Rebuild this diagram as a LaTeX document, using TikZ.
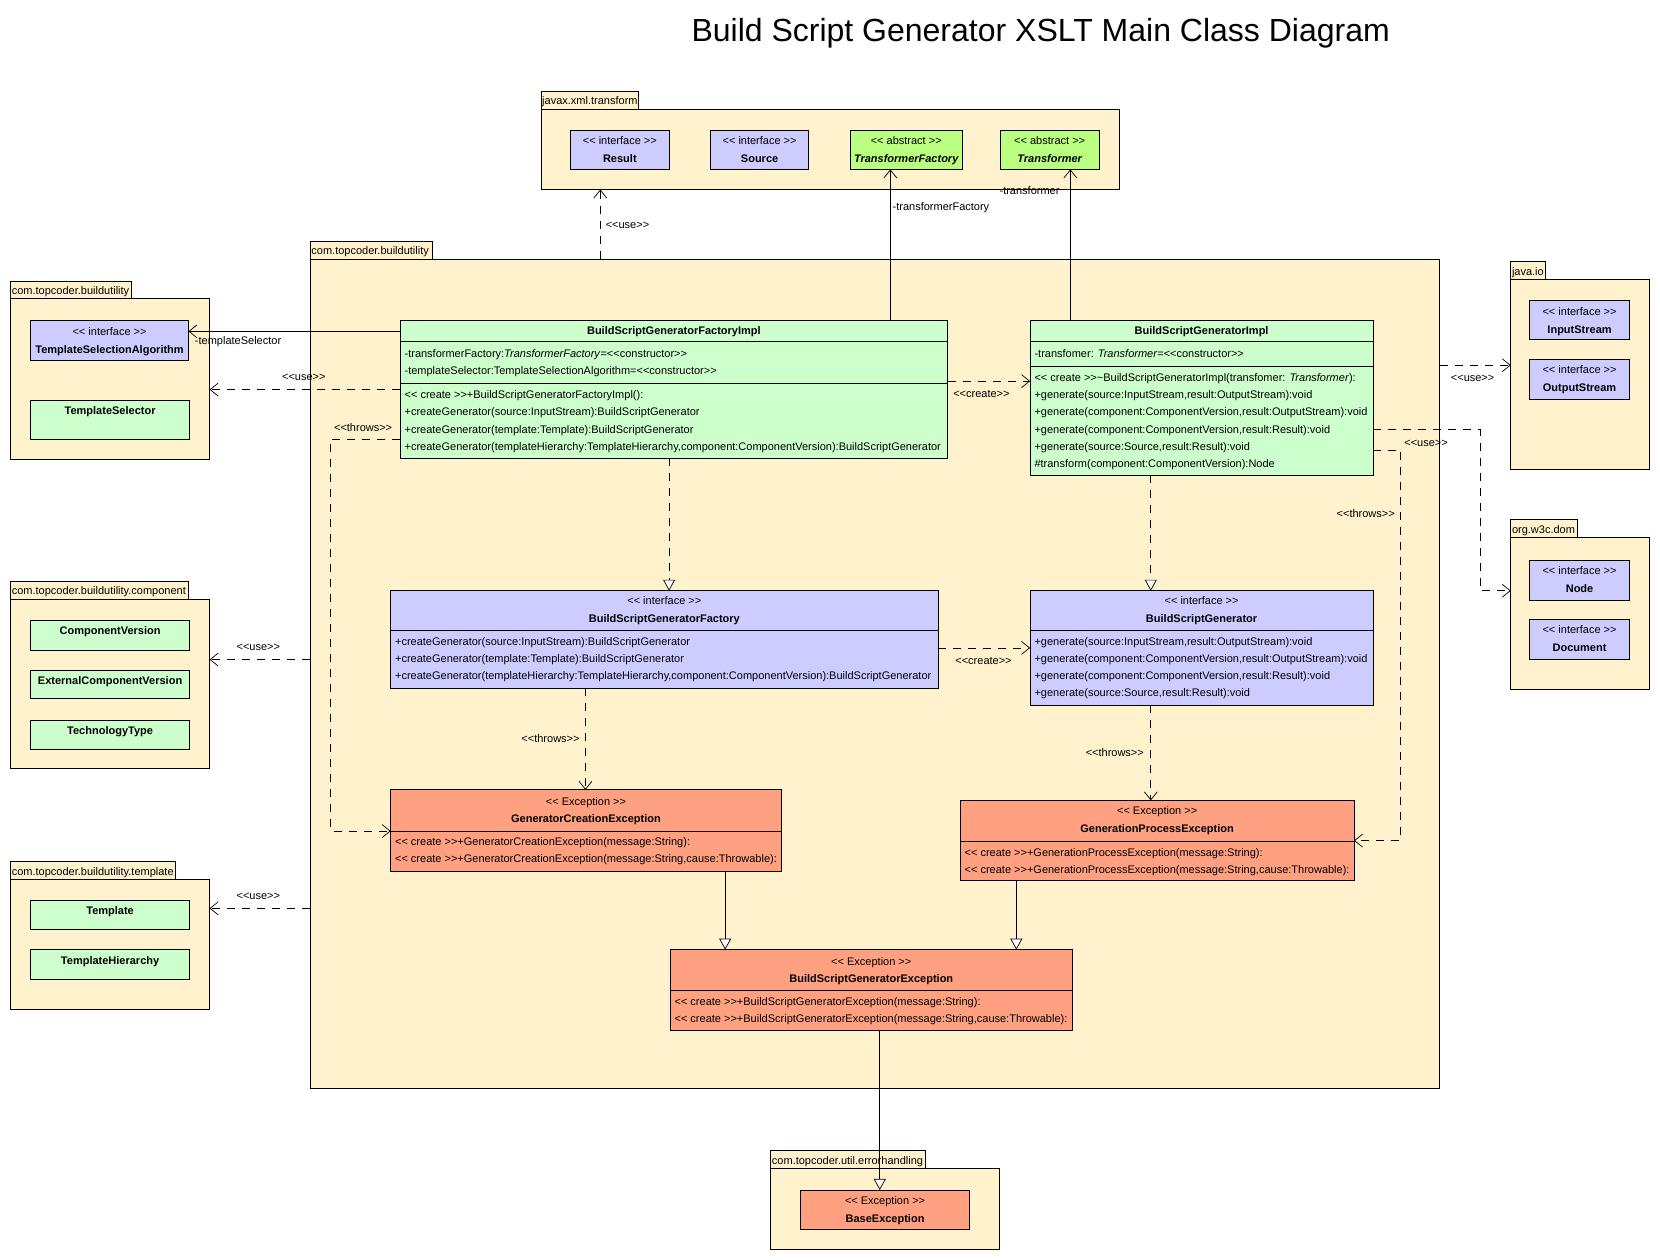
\documentclass[tikz,border=0pt]{standalone}
\usepackage{fontspec}
\setmainfont{Liberation Sans}
\usetikzlibrary{arrows.meta,fit,calc}
\definecolor{pkgc}{HTML}{FFF2CC}
\definecolor{ifc}{HTML}{CCCCFF}
\definecolor{clc}{HTML}{CCFFCC}
\definecolor{abc}{HTML}{BBFF80}
\definecolor{exc}{HTML}{FFA080}
\newcommand\fs{\fontsize{11}{13}\selectfont}
\newcommand\ubox[6]{\node[#2, fit={(#3,#4)(#5,#6)}] (#1) {};}
\newcommand\LL{<\kern0pt<}
\newcommand\GG{>\kern0pt>}
\tikzset{
  base/.style={draw=black, line width=0.7pt, inner sep=0pt, outer sep=0pt},
  pkgb/.style={base, fill=pkgc},
  ifb/.style={base, fill=ifc},
  clb/.style={base, fill=clc},
  abb/.style={base, fill=abc},
  exb/.style={base, fill=exc},
  t/.style={inner sep=0pt, font=\fs, text height=10pt, text depth=2pt},
  lt/.style={t, anchor=west},
  bt/.style={t, font=\fs\bfseries},
  sep/.style={line width=0.7pt},
  dep/.style={line width=0.7pt, dash pattern=on 8pt off 7pt, -{Straight Barb[length=8pt,width=13pt,line width=0.7pt]}},
  assoc/.style={line width=0.7pt, -{Straight Barb[length=8pt,width=13pt,line width=0.7pt]}},
  real/.style={line width=0.7pt, dash pattern=on 8pt off 7pt, -{Triangle[open,fill=white,length=11pt,width=12pt,line width=0.7pt]}},
  gen/.style={line width=0.7pt, -{Triangle[open,fill=white,length=11pt,width=12pt,line width=0.7pt]}},
}
\begin{document}
\begin{tikzpicture}[x=1.0587pt,y=-1.0587pt]
\fill[white] (0,0) rectangle (1568,1190);
\useasboundingbox (0,0) rectangle (1568,1190);

\node[font=\fontsize{32}{38}\selectfont, inner sep=0pt] (title) at (983,31) {Build Script Generator XSLT Main Class Diagram};

% ---------- packages ----------
\ubox{javax}{pkgb}{511}{103}{1057}{179}
\ubox{javaxtab}{pkgb}{511}{86}{603}{103}
\node[lt] (javaxl) at (512,95) {javax.xml.transform};

\ubox{main}{pkgb}{293}{245}{1360}{1028}
\ubox{maintab}{pkgb}{293}{228}{408}{245}
\node[lt] (mainl) at (294,237) {com.topcoder.buildutility};

\ubox{pk1}{pkgb}{10}{282}{198}{434}
\ubox{pk1tab}{pkgb}{10}{266}{124}{282}
\node[lt] (pk1l) at (11,274) {com.topcoder.buildutility};

\ubox{pk2}{pkgb}{10}{566}{198}{726}
\ubox{pk2tab}{pkgb}{10}{549}{178}{566}
\node[lt] (pk2l) at (11,558) {com.topcoder.buildutility.component};

\ubox{pk3}{pkgb}{10}{831}{198}{953}
\ubox{pk3tab}{pkgb}{10}{814}{166}{831}
\node[lt] (pk3l) at (11,823) {com.topcoder.buildutility.template};

\ubox{io}{pkgb}{1427}{264}{1558}{443}
\ubox{iotab}{pkgb}{1427}{247}{1460}{264}
\node[lt] (iol) at (1428,256) {java.io};

\ubox{dom}{pkgb}{1427}{508}{1558}{651}
\ubox{domtab}{pkgb}{1427}{491}{1490}{508}
\node[lt] (doml) at (1428,500) {org.w3c.dom};

\ubox{err}{pkgb}{728}{1104}{944}{1180}
\ubox{errtab}{pkgb}{728}{1087}{874}{1104}
\node[lt] (errl) at (729,1096) {com.topcoder.util.errorhandling};

% ---------- javax.xml.transform ----------
\ubox{res}{ifb}{539}{123}{632}{160}
\node[t] (ress) at (585.5,133) {\LL{} interface \GG};
\node[bt] (resn) at (585.5,150) {Result};
\ubox{src}{ifb}{671}{123}{764}{160}
\node[t] (srcs) at (717.5,133) {\LL{} interface \GG};
\node[bt] (srcn) at (717.5,150) {Source};
\ubox{tf}{abb}{803}{123}{909}{160}
\node[t] (tfs) at (856,133) {\LL{} abstract \GG};
\node[bt] (tfn) at (856,150) {\itshape TransformerFactory};
\ubox{tr}{abb}{945}{123}{1038}{160}
\node[t] (trs) at (991.5,133) {\LL{} abstract \GG};
\node[bt] (trn) at (991.5,150) {\itshape Transformer};

% ---------- left packages ----------
\ubox{tsa}{ifb}{29}{303}{178}{340}
\node[t] (tsas) at (103.5,313) {\LL{} interface \GG};
\node[bt] (tsan) at (103.5,330) {TemplateSelectionAlgorithm};
\ubox{ts}{clb}{29}{378}{179}{415}
\node[bt] (tsn) at (104,388) {TemplateSelector};

\ubox{cv}{clb}{29}{586}{179}{614}
\node[bt] (cvn) at (104,596) {ComponentVersion};
\ubox{ecv}{clb}{29}{633}{179}{660}
\node[bt] (ecvn) at (104,643) {ExternalComponentVersion};
\ubox{tt}{clb}{29}{680}{179}{708}
\node[bt] (ttn) at (104,690) {TechnologyType};

\ubox{tpl}{clb}{29}{850}{179}{878}
\node[bt] (tpln) at (104,860) {Template};
\ubox{th}{clb}{29}{897}{179}{925}
\node[bt] (thn) at (104,907) {TemplateHierarchy};

% ---------- right packages ----------
\ubox{is}{ifb}{1445}{284}{1539}{321}
\node[t] (iss) at (1492,294) {\LL{} interface \GG};
\node[bt] (isn) at (1492,311) {InputStream};
\ubox{os}{ifb}{1445}{339}{1539}{377}
\node[t] (oss) at (1492,349) {\LL{} interface \GG};
\node[bt] (osn) at (1492,366) {OutputStream};
\ubox{nd}{ifb}{1445}{529}{1539}{567}
\node[t] (nds) at (1492,539) {\LL{} interface \GG};
\node[bt] (ndn) at (1492,556) {Node};
\ubox{doc}{ifb}{1445}{585}{1539}{623}
\node[t] (docs) at (1492,595) {\LL{} interface \GG};
\node[bt] (docn) at (1492,612) {Document};

\ubox{base}{exb}{756}{1124}{916}{1161}
\node[t] (bases) at (836,1134) {\LL{} Exception \GG};
\node[bt] (basen) at (836,1151) {BaseException};

% ---------- BuildScriptGeneratorFactoryImpl ----------
\ubox{fimpl}{clb}{378}{303}{895}{433}
\draw[sep] (fimpl.west |- 0,322) -- (fimpl.east |- 0,322);
\draw[sep] (fimpl.west |- 0,362) -- (fimpl.east |- 0,362);
\node[bt] (fimpln) at (636.5,312) {BuildScriptGeneratorFactoryImpl};
\node[lt] (fa1) at (382,334) {-transformerFactory:\textit{TransformerFactory}=\LL{}constructor\GG};
\node[lt] (fa2) at (382,350) {-templateSelector:TemplateSelectionAlgorithm=\LL{}constructor\GG};
\node[lt] (fm1) at (382,373) {\LL{} create \GG+BuildScriptGeneratorFactoryImpl():};
\node[lt] (fm2) at (382,389) {+createGenerator(source:InputStream):BuildScriptGenerator};
\node[lt] (fm3) at (382,406) {+createGenerator(template:Template):BuildScriptGenerator};
\node[lt] (fm4) at (382,422) {+createGenerator(templateHierarchy:TemplateHierarchy,component:ComponentVersion):BuildScriptGenerator};

% ---------- BuildScriptGeneratorImpl ----------
\ubox{impl}{clb}{973}{303}{1297}{449}
\draw[sep] (impl.west |- 0,322) -- (impl.east |- 0,322);
\draw[sep] (impl.west |- 0,346) -- (impl.east |- 0,346);
\node[bt] (impln) at (1135,312) {BuildScriptGeneratorImpl};
\node[lt] (ia1) at (977,334) {-transfomer: \textit{Transformer}=\LL{}constructor\GG};
\node[lt] (im1) at (977,357) {\LL{} create \GG\textasciitilde BuildScriptGeneratorImpl(transfomer: \textit{Transformer}):};
\node[lt] (im2) at (977,373) {+generate(source:InputStream,result:OutputStream):void};
\node[lt] (im3) at (977,389) {+generate(component:ComponentVersion,result:OutputStream):void};
\node[lt] (im4) at (977,406) {+generate(component:ComponentVersion,result:Result):void};
\node[lt] (im5) at (977,422) {+generate(source:Source,result:Result):void};
\node[lt] (im6) at (977,438) {\#transform(component:ComponentVersion):Node};

% ---------- BuildScriptGeneratorFactory ----------
\ubox{fac}{ifb}{369}{558}{886}{650}
\draw[sep] (fac.west |- 0,595) -- (fac.east |- 0,595);
\node[t] (facs) at (627.5,567) {\LL{} interface \GG};
\node[bt] (facn) at (627.5,584) {BuildScriptGeneratorFactory};
\node[lt] (cm1) at (373,606) {+createGenerator(source:InputStream):BuildScriptGenerator};
\node[lt] (cm2) at (373,622) {+createGenerator(template:Template):BuildScriptGenerator};
\node[lt] (cm3) at (373,638) {+createGenerator(templateHierarchy:TemplateHierarchy,component:ComponentVersion):BuildScriptGenerator};

% ---------- BuildScriptGenerator ----------
\ubox{gen}{ifb}{973}{558}{1297}{666}
\draw[sep] (gen.west |- 0,595) -- (gen.east |- 0,595);
\node[t] (gens) at (1135,567) {\LL{} interface \GG};
\node[bt] (genn) at (1135,584) {BuildScriptGenerator};
\node[lt] (gm1) at (977,606) {+generate(source:InputStream,result:OutputStream):void};
\node[lt] (gm2) at (977,622) {+generate(component:ComponentVersion,result:OutputStream):void};
\node[lt] (gm3) at (977,638) {+generate(component:ComponentVersion,result:Result):void};
\node[lt] (gm4) at (977,654) {+generate(source:Source,result:Result):void};

% ---------- Exceptions ----------
\ubox{gce}{exb}{369}{746}{738}{823}
\draw[sep] (gce.west |- 0,785) -- (gce.east |- 0,785);
\node[t] (gces) at (553.5,757) {\LL{} Exception \GG};
\node[bt] (gcen) at (553.5,773) {GeneratorCreationException};
\node[lt] (gcm1) at (373,795) {\LL{} create \GG+GeneratorCreationException(message:String):};
\node[lt] (gcm2) at (373,811) {\LL{} create \GG+GeneratorCreationException(message:String,cause:Throwable):};

\ubox{gpe}{exb}{907}{756}{1279}{832}
\draw[sep] (gpe.west |- 0,795) -- (gpe.east |- 0,795);
\node[t] (gpes) at (1093,766) {\LL{} Exception \GG};
\node[bt] (gpen) at (1093,783) {GenerationProcessException};
\node[lt] (gpm1) at (911,805) {\LL{} create \GG+GenerationProcessException(message:String):};
\node[lt] (gpm2) at (911,821) {\LL{} create \GG+GenerationProcessException(message:String,cause:Throwable):};

\ubox{bsge}{exb}{633}{897}{1013}{973}
\draw[sep] (bsge.west |- 0,935) -- (bsge.east |- 0,935);
\node[t] (bsges) at (823,908) {\LL{} Exception \GG};
\node[bt] (bsgen) at (823,924) {BuildScriptGeneratorException};
\node[lt] (bm1) at (637,946) {\LL{} create \GG+BuildScriptGeneratorException(message:String):};
\node[lt] (bm2) at (637,962) {\LL{} create \GG+BuildScriptGeneratorException(message:String,cause:Throwable):};

% ---------- helper coordinates ----------
\coordinate (cA) at (567,0);
\coordinate (cB) at (841,0);
\coordinate (cC) at (1011,0);
\coordinate (cD) at (0,313);
\coordinate (cE) at (0,368);
\coordinate (cF) at (312,415);
\coordinate (cH) at (312,785);
\coordinate (cI) at (0,360);
\coordinate (cJ) at (632,0);
\coordinate (cK) at (1087,0);
\coordinate (cL) at (0,612);
\coordinate (cM) at (553,0);
\coordinate (cN) at (1323,425);
\coordinate (cO) at (1323,794);
\coordinate (cP) at (1398,406);
\coordinate (cQ) at (1398,558);
\coordinate (cR) at (0,345);
\coordinate (cS) at (0,623);
\coordinate (cT) at (0,858);
\coordinate (cU) at (685,0);
\coordinate (cV) at (960,0);
\coordinate (cW) at (831,0);

% ---------- connectors ----------
\draw[dep] (main.north -| cA) -- (javax.south -| cA);
\node[lt] (l1) at (572,212) {\LL{}use\GG};
\draw[assoc] (fimpl.north -| cB) -- (tf.south -| cB);
\node[lt] (l2) at (843,195) {-transformerFactory};
\draw[assoc] (impl.north -| cC) -- (tr.south -| cC);
\node[lt] (l3) at (944,180) {-transformer};
\draw[assoc] (fimpl.west |- cD) -- (tsa.east |- cD);
\node[lt] (l4) at (184,322) {-templateSelector};
\draw[dep] (fimpl.west |- cE) -- (pk1.east |- cE);
\node[t] (l5) at (287,356) {\LL{}use\GG};
\draw[dep] (fimpl.west |- cF) -- (cF) -- (cH) -- (gce.west |- cH);
\node[t] (l6) at (343,404) {\LL{}throws\GG};
\draw[dep] (fimpl.east |- cI) -- (impl.west |- cI);
\node[t] (l7) at (927,372) {\LL{}create\GG};
\draw[real] (fimpl.south -| cJ) -- (fac.north -| cJ);
\draw[real] (impl.south -| cK) -- (gen.north -| cK);
\draw[dep] (fac.east |- cL) -- (gen.west |- cL);
\node[t] (l10) at (929,624) {\LL{}create\GG};
\draw[dep] (fac.south -| cM) -- (gce.north -| cM);
\node[t] (l11) at (520,698) {\LL{}throws\GG};
\draw[dep] (gen.south -| cK) -- (gpe.north -| cK);
\node[t] (l12) at (1053,711) {\LL{}throws\GG};
\draw[dep] (impl.east |- cN) -- (cN) -- (cO) -- (gpe.east |- cO);
\node[t] (l13) at (1290,485) {\LL{}throws\GG};
\draw[dep] (impl.east |- cP) -- (cP) -- (cQ) -- (dom.west |- cQ);
\node[t] (l14) at (1347,418) {\LL{}use\GG};
\draw[dep] (main.east |- cR) -- (io.west |- cR);
\node[t] (l15) at (1391,357) {\LL{}use\GG};
\draw[dep] (main.west |- cS) -- (pk2.east |- cS);
\node[t] (l16) at (244,611) {\LL{}use\GG};
\draw[dep] (main.west |- cT) -- (pk3.east |- cT);
\node[t] (l17) at (244,846) {\LL{}use\GG};
\draw[gen] (gce.south -| cU) -- (bsge.north -| cU);
\draw[gen] (gpe.south -| cV) -- (bsge.north -| cV);
\draw[gen] (bsge.south -| cW) -- (base.north -| cW);
\end{tikzpicture}
\end{document}
